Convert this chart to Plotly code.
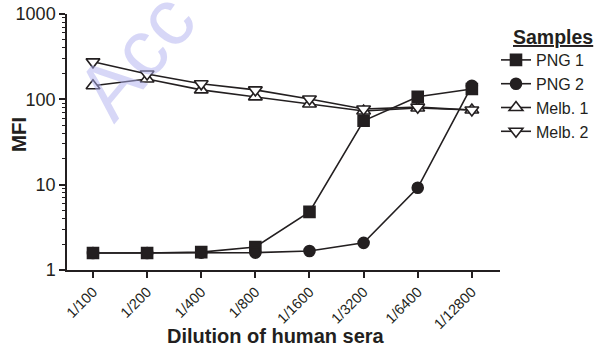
import plotly.graph_objects as go

dilutions = ["1/100", "1/200", "1/400", "1/800", "1/1600", "1/3200", "1/6400", "1/12800"]
png1 = [1.58, 1.58, 1.62, 1.86, 4.8, 56, 107, 132]
png2 = [1.58, 1.58, 1.60, 1.60, 1.67, 2.08, 9.2, 144]
melb1 = [144, 173, 129, 107, 88, 73, 79, 75]
melb2 = [275, 198, 152, 129, 101, 77, 81, 75]

y_tickvals = [1, 10, 100, 1000]
y_ticktext = ["1", "10", "100", "1000"]

FONT = "Liberation Sans, Arial, sans-serif"
INK = "#231f20"

L, R, T, B, W, H = 67, 101, 14, 78, 601, 348
PW, PH = W - L - R, H - T - B


def px(x):
    return (x - L) / PW


def py(y):
    return (H - B - y) / PH


series = [
    ("PNG 1", png1, "square", INK, 11),
    ("PNG 2", png2, "circle", INK, 11),
    ("Melb. 1", melb1, "triangle-up", "white", 12),
    ("Melb. 2", melb2, "triangle-down", "white", 12),
]

fig = go.Figure()
for name, vals, sym, fill, sz in series:
    fig.add_trace(go.Scatter(
        x=list(range(len(dilutions))), y=vals, name=name,
        mode="lines+markers",
        line=dict(color=INK, width=1.6),
        marker=dict(symbol=sym, size=sz, color=fill,
                    line=dict(color=INK, width=1.6)),
    ))

# faint watermark
fig.add_annotation(
    text="Acc", xref="paper", yref="paper", x=px(135), y=py(56),
    xanchor="center", yanchor="middle",
    showarrow=False, textangle=-50,
    font=dict(family=FONT, size=80, color="rgba(175,175,240,0.5)"),
)

# legend title
fig.add_annotation(
    text="<b><u>Samples</u></b>", xref="paper", yref="paper",
    x=px(511), y=py(37), xanchor="left", yanchor="middle",
    showarrow=False, font=dict(family=FONT, size=19.5, color=INK),
)

# axis titles
fig.add_annotation(
    text="<b>MFI</b>", xref="paper", yref="paper", x=px(18), y=py(135),
    xanchor="center", yanchor="middle", textangle=-90, showarrow=False,
    font=dict(family=FONT, size=20.5, color=INK),
)
fig.add_annotation(
    text="<b>Dilution of human sera</b>", xref="paper", yref="paper", x=px(276), y=py(347.5),
    xanchor="center", yanchor="bottom", showarrow=False, borderpad=0,
    font=dict(family=FONT, size=20, color=INK),
)

fig.update_layout(
    width=W, height=H,
    margin=dict(l=L, r=R, t=T, b=B, autoexpand=False),
    paper_bgcolor="white", plot_bgcolor="white",
    font=dict(family=FONT, color=INK, size=14),
    showlegend=True,
    legend=dict(
        x=px(496), xanchor="left", y=py(43), yanchor="top",
        font=dict(size=16, family=FONT, color=INK),
        itemwidth=30, tracegroupgap=0, bgcolor="rgba(0,0,0,0)",
    ),
    xaxis=dict(
        range=[-0.48, 7.52], automargin=False,
        tickmode="array", tickvals=list(range(len(dilutions))), ticktext=dilutions,
        tickangle=-45, ticks="outside", ticklen=6, tickwidth=1.5, tickcolor=INK,
        showline=True, linecolor=INK, linewidth=1.5, showgrid=False, zeroline=False,
        tickfont=dict(size=14.5, family=FONT, color=INK),
    ),
    yaxis=dict(
        type="log", range=[0, 3], automargin=False,
        tickmode="array", tickvals=y_tickvals, ticktext=y_ticktext,
        ticks="outside", ticklen=6, tickwidth=1.5, tickcolor=INK,
        minor=dict(ticks="outside", ticklen=3, tickwidth=1, tickcolor=INK, dtick="D1", showgrid=False),
        showline=True, linecolor=INK, linewidth=1.5, showgrid=False, zeroline=False,
        tickfont=dict(size=18, family=FONT, color=INK),
    ),
)

fig.write_html("out.html")
